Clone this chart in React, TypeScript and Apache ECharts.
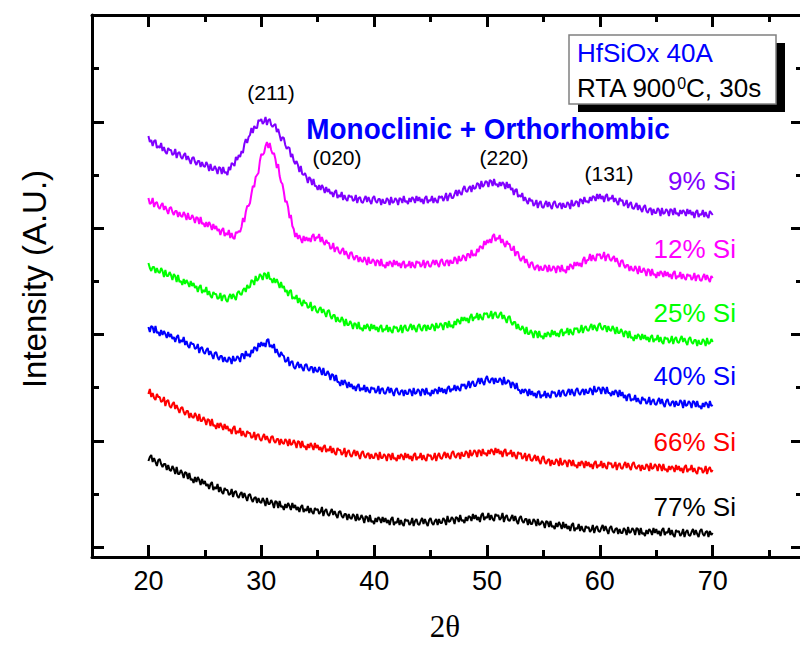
import React, { useEffect, useRef } from "react";
import * as echarts from "echarts";

// 2θ scan from 20° to 70°, one reading every 0.125° (eight per degree, one row per degree)
const scanStart = 20;
const scanStep = 0.125;

const sampleNames = ["9% Si", "12% Si", "25% Si", "40% Si", "66% Si", "77% Si"];
const sampleColors = ["#8000ff", "#ff00ff", "#00ff00", "#0000ff", "#ff0000", "#000000"];

// Intensity (arbitrary units), patterns offset vertically
const si9 = [
  421, 415, 417, 411, 416, 417, 409, 411,
  409, 414, 406, 410, 405, 403, 409, 407,
  407, 402, 403, 408, 399, 404, 405, 400,
  398, 402, 404, 397, 401, 397, 393, 399,
  400, 395, 392, 396, 396, 390, 395, 391,
  390, 395, 392, 386, 393, 387, 387, 391,
  388, 383, 390, 389, 383, 390, 384, 385,
  382, 390, 387, 394, 393, 391, 400, 397,
  402, 400, 406, 404, 413, 418, 414, 420,
  422, 429, 424, 431, 429, 429, 437, 436,
  438, 433, 435, 440, 432, 437, 438, 432,
  430, 432, 433, 425, 428, 422, 416, 420,
  419, 412, 408, 410, 409, 400, 403, 396,
  393, 396, 392, 385, 391, 383, 382, 384,
  380, 374, 380, 378, 372, 378, 371, 371,
  367, 372, 367, 372, 369, 364, 370, 365,
  368, 363, 365, 360, 365, 367, 359, 362,
  360, 365, 357, 362, 358, 356, 362, 360,
  361, 356, 357, 362, 354, 359, 360, 355,
  354, 358, 361, 355, 360, 356, 353, 359,
  361, 356, 354, 358, 358, 352, 358, 354,
  354, 359, 357, 352, 360, 354, 355, 359,
  357, 352, 359, 358, 354, 361, 355, 356,
  353, 359, 355, 360, 358, 354, 361, 356,
  360, 355, 358, 353, 359, 361, 354, 357,
  356, 361, 354, 359, 356, 354, 361, 359,
  361, 356, 359, 364, 356, 361, 364, 359,
  359, 363, 367, 361, 367, 364, 362, 368,
  371, 366, 365, 369, 371, 365, 372, 368,
  369, 374, 373, 368, 376, 370, 372, 376,
  375, 370, 377, 376, 371, 378, 372, 373,
  370, 375, 371, 375, 373, 368, 375, 369,
  373, 367, 369, 362, 367, 368, 360, 362,
  360, 364, 356, 360, 356, 353, 359, 356,
  357, 351, 353, 357, 349, 354, 356, 350,
  349, 353, 356, 350, 355, 351, 348, 354,
  356, 351, 349, 353, 354, 348, 354, 350,
  350, 355, 353, 348, 357, 351, 352, 356,
  355, 350, 358, 357, 353, 360, 355, 356,
  354, 360, 356, 361, 360, 356, 363, 358,
  363, 358, 361, 355, 361, 363, 356, 359,
  358, 362, 355, 359, 355, 352, 359, 356,
  357, 351, 353, 357, 349, 353, 355, 349,
  348, 351, 354, 347, 352, 348, 345, 350,
  352, 346, 344, 348, 349, 342, 348, 344,
  344, 349, 347, 341, 349, 343, 344, 348,
  346, 341, 348, 347, 342, 349, 343, 344,
  341, 347, 343, 347, 345, 341, 348, 343,
  347, 342, 345, 339, 345, 347, 340, 343,
  342, 347, 340, 345, 341, 339, 346, 344,
  342,
];
const si12 = [
  359, 353, 354, 359, 350, 354, 355, 350,
  348, 352, 354, 347, 351, 347, 343, 349,
  350, 345, 342, 346, 346, 340, 345, 341,
  340, 345, 342, 337, 344, 338, 338, 342,
  339, 334, 340, 339, 333, 340, 333, 334,
  330, 335, 330, 335, 332, 327, 333, 328,
  331, 326, 328, 322, 327, 329, 321, 324,
  322, 327, 319, 324, 319, 318, 325, 324,
  326, 325, 330, 339, 335, 345, 351, 351,
  354, 363, 371, 370, 380, 382, 384, 396,
  403, 402, 404, 411, 415, 409, 414, 407,
  403, 404, 398, 389, 393, 381, 375, 373,
  365, 355, 356, 350, 339, 342, 331, 328,
  320, 324, 318, 322, 318, 314, 321, 316,
  320, 316, 319, 315, 321, 323, 316, 320,
  319, 323, 315, 320, 315, 312, 317, 314,
  314, 308, 309, 314, 305, 309, 310, 305,
  303, 307, 309, 302, 306, 302, 298, 304,
  305, 300, 297, 301, 301, 295, 300, 296,
  295, 300, 297, 292, 300, 294, 294, 298,
  296, 291, 297, 296, 291, 298, 291, 292,
  289, 295, 291, 296, 294, 290, 297, 292,
  296, 291, 294, 289, 294, 296, 289, 292,
  291, 296, 289, 295, 291, 289, 296, 294,
  295, 290, 292, 297, 289, 294, 296, 291,
  290, 294, 297, 292, 297, 293, 290, 296,
  298, 293, 291, 296, 297, 291, 297, 294,
  294, 300, 298, 293, 301, 296, 297, 302,
  300, 296, 303, 303, 299, 307, 301, 303,
  301, 308, 305, 311, 310, 308, 316, 312,
  317, 314, 318, 314, 321, 323, 316, 319,
  318, 322, 314, 318, 313, 310, 316, 313,
  313, 307, 307, 311, 301, 305, 305, 299,
  296, 299, 301, 294, 298, 293, 289, 294,
  295, 290, 287, 291, 292, 286, 291, 287,
  287, 292, 290, 285, 292, 286, 287, 291,
  289, 284, 291, 290, 285, 292, 286, 287,
  284, 291, 287, 293, 291, 288, 295, 291,
  295, 291, 294, 290, 297, 300, 293, 297,
  297, 303, 296, 302, 298, 296, 303, 302,
  303, 298, 300, 305, 296, 301, 303, 298,
  296, 299, 301, 295, 299, 294, 290, 296,
  297, 292, 289, 292, 292, 286, 291, 287,
  286, 291, 288, 283, 291, 285, 285, 289,
  286, 281, 288, 287, 281, 288, 282, 283,
  279, 285, 281, 286, 284, 280, 286, 281,
  285, 280, 283, 278, 284, 286, 278, 281,
  280, 285, 278, 283, 279, 277, 283, 281,
  282, 277, 279, 284, 276, 281, 282, 277,
  276, 280, 283, 277, 282, 278, 275, 281,
  279,
];
const si25 = [
  294, 289, 286, 290, 290, 284, 289, 285,
  284, 289, 286, 280, 287, 281, 281, 285,
  282, 277, 283, 281, 275, 282, 275, 276,
  272, 278, 273, 277, 274, 270, 276, 271,
  274, 269, 271, 265, 270, 272, 264, 267,
  265, 270, 262, 266, 261, 259, 265, 263,
  263, 258, 259, 264, 256, 261, 262, 257,
  255, 260, 263, 258, 263, 260, 257, 264,
  266, 263, 262, 267, 269, 265, 272, 269,
  270, 277, 276, 272, 281, 276, 278, 283,
  281, 277, 284, 283, 278, 285, 278, 278,
  274, 279, 274, 278, 274, 269, 275, 269,
  271, 265, 267, 261, 266, 267, 258, 260,
  258, 262, 254, 259, 254, 251, 257, 254,
  254, 249, 250, 255, 246, 250, 251, 246,
  244, 248, 250, 244, 248, 244, 240, 246,
  247, 241, 238, 242, 242, 235, 240, 236,
  235, 240, 237, 231, 238, 232, 232, 236,
  233, 228, 234, 233, 228, 235, 228, 229,
  226, 232, 228, 233, 230, 226, 233, 228,
  232, 227, 230, 225, 230, 232, 225, 228,
  227, 232, 225, 230, 226, 224, 231, 229,
  230, 225, 227, 232, 224, 230, 232, 227,
  226, 230, 233, 227, 232, 228, 225, 231,
  233, 228, 226, 231, 232, 226, 232, 228,
  228, 233, 231, 226, 234, 229, 230, 234,
  232, 227, 234, 234, 229, 236, 230, 232,
  229, 236, 232, 238, 236, 233, 240, 236,
  240, 236, 239, 234, 240, 243, 236, 240,
  239, 244, 237, 243, 239, 237, 244, 243,
  244, 239, 241, 246, 238, 243, 245, 240,
  239, 243, 245, 238, 242, 238, 234, 240,
  241, 235, 232, 235, 235, 228, 233, 228,
  227, 231, 228, 223, 230, 223, 223, 227,
  224, 219, 226, 225, 219, 226, 220, 221,
  218, 224, 220, 225, 223, 220, 227, 222,
  226, 221, 224, 220, 226, 228, 221, 225,
  224, 229, 222, 228, 224, 222, 229, 228,
  229, 224, 226, 232, 224, 229, 231, 227,
  226, 230, 233, 227, 232, 229, 226, 232,
  234, 229, 227, 231, 231, 225, 231, 227,
  226, 231, 228, 223, 230, 224, 224, 228,
  225, 220, 226, 225, 219, 226, 219, 220,
  216, 222, 218, 223, 221, 217, 223, 218,
  222, 217, 220, 215, 220, 222, 215, 218,
  217, 222, 215, 220, 215, 213, 220, 218,
  219, 214, 216, 221, 213, 218, 220, 215,
  214, 218, 221, 215, 219, 215, 212, 218,
  220, 215, 213, 217, 217, 211, 217, 213,
  213, 218, 216, 211, 219, 213, 214, 218,
  215,
];
const si40 = [
  230, 225, 231, 230, 224, 231, 224, 225,
  221, 227, 222, 226, 223, 219, 225, 220,
  223, 218, 220, 215, 220, 222, 214, 217,
  215, 220, 212, 216, 211, 209, 215, 213,
  213, 208, 209, 213, 204, 209, 210, 205,
  203, 207, 209, 202, 206, 202, 198, 204,
  205, 200, 197, 201, 201, 195, 200, 196,
  195, 200, 198, 193, 201, 196, 197, 201,
  199, 195, 203, 203, 198, 206, 201, 203,
  200, 207, 204, 210, 209, 206, 214, 210,
  215, 211, 214, 210, 217, 218, 210, 212,
  209, 213, 204, 208, 203, 200, 205, 202,
  201, 195, 196, 200, 191, 195, 196, 190,
  188, 192, 195, 189, 193, 189, 186, 192,
  193, 188, 186, 190, 190, 184, 190, 186,
  185, 190, 187, 182, 189, 182, 182, 186,
  183, 177, 183, 182, 176, 182, 175, 175,
  171, 177, 172, 177, 174, 169, 175, 170,
  173, 168, 171, 166, 171, 173, 166, 169,
  167, 172, 165, 170, 166, 164, 170, 168,
  169, 164, 166, 171, 163, 168, 169, 164,
  163, 167, 170, 164, 169, 165, 161, 167,
  169, 164, 162, 166, 167, 161, 167, 163,
  163, 168, 166, 161, 169, 163, 164, 168,
  166, 161, 168, 167, 162, 169, 163, 164,
  161, 167, 163, 168, 167, 163, 170, 165,
  169, 164, 168, 163, 169, 171, 165, 168,
  167, 172, 166, 171, 168, 166, 173, 171,
  173, 168, 171, 176, 169, 174, 176, 171,
  171, 175, 179, 173, 179, 175, 172, 178,
  181, 176, 174, 178, 179, 173, 179, 175,
  175, 179, 177, 172, 180, 173, 174, 177,
  175, 169, 175, 173, 168, 174, 167, 167,
  163, 168, 164, 168, 166, 161, 168, 162,
  166, 161, 164, 159, 165, 166, 159, 162,
  161, 166, 159, 164, 161, 159, 166, 164,
  165, 160, 162, 167, 160, 165, 167, 162,
  161, 165, 168, 162, 168, 164, 161, 167,
  169, 164, 162, 166, 168, 162, 168, 164,
  164, 169, 167, 162, 171, 165, 166, 170,
  168, 163, 170, 168, 163, 170, 164, 164,
  161, 166, 162, 167, 165, 160, 167, 161,
  165, 159, 162, 156, 162, 163, 156, 158,
  157, 162, 155, 159, 155, 153, 160, 157,
  158, 153, 155, 160, 152, 156, 158, 153,
  152, 156, 159, 153, 158, 153, 150, 156,
  158, 153, 151, 155, 156, 150, 156, 152,
  152, 157, 155, 149, 157, 151, 152, 156,
  154, 149, 156, 155, 150, 156, 150, 151,
  148, 154, 150, 155, 153, 149, 156, 151,
  152,
];
const si66 = [
  163, 168, 160, 164, 159, 157, 163, 160,
  160, 155, 156, 160, 151, 156, 157, 151,
  149, 153, 155, 148, 152, 148, 144, 149,
  150, 145, 142, 146, 146, 139, 144, 140,
  139, 144, 141, 136, 143, 136, 136, 140,
  137, 132, 138, 137, 131, 138, 131, 132,
  128, 134, 129, 134, 131, 127, 133, 128,
  131, 126, 128, 123, 129, 131, 123, 126,
  124, 129, 121, 126, 122, 120, 126, 124,
  124, 119, 120, 125, 117, 122, 123, 118,
  116, 120, 123, 117, 121, 117, 114, 120,
  121, 116, 114, 118, 118, 112, 118, 114,
  113, 118, 116, 111, 118, 112, 113, 117,
  114, 109, 116, 115, 109, 116, 110, 111,
  107, 113, 109, 114, 111, 107, 114, 109,
  112, 107, 110, 105, 110, 112, 105, 108,
  106, 111, 104, 109, 104, 102, 109, 107,
  107, 102, 104, 109, 100, 105, 107, 102,
  100, 104, 107, 101, 106, 102, 98, 104,
  106, 101, 99, 103, 104, 98, 103, 99,
  99, 104, 102, 97, 105, 99, 99, 103,
  101, 96, 103, 102, 97, 104, 98, 99,
  96, 102, 98, 103, 101, 97, 104, 99,
  103, 98, 101, 96, 102, 104, 97, 100,
  99, 104, 97, 102, 98, 96, 103, 101,
  102, 97, 99, 104, 96, 101, 104, 99,
  98, 102, 105, 99, 104, 100, 98, 104,
  106, 101, 99, 103, 104, 98, 105, 101,
  101, 106, 104, 99, 107, 101, 103, 107,
  105, 100, 107, 106, 101, 108, 103, 104,
  101, 107, 103, 108, 106, 102, 109, 104,
  108, 103, 106, 100, 106, 108, 101, 104,
  103, 107, 100, 105, 101, 98, 105, 103,
  104, 98, 100, 104, 96, 101, 103, 97,
  96, 99, 102, 96, 101, 96, 93, 99,
  101, 95, 93, 97, 98, 91, 97, 93,
  93, 98, 96, 91, 99, 92, 93, 97,
  95, 90, 97, 96, 91, 97, 91, 92,
  89, 95, 91, 96, 94, 89, 96, 91,
  95, 90, 93, 88, 94, 96, 89, 92,
  91, 96, 89, 94, 90, 88, 95, 93,
  94, 89, 91, 95, 87, 92, 94, 89,
  88, 92, 95, 89, 94, 90, 87, 93,
  95, 90, 88, 91, 92, 86, 92, 88,
  88, 93, 91, 86, 94, 88, 89, 93,
  91, 86, 93, 91, 86, 93, 87, 88,
  85, 91, 87, 91, 89, 85, 92, 87,
  91, 86, 89, 84, 90, 92, 85, 88,
  87, 92, 85, 89, 85, 83, 90, 88,
  89, 84, 86, 91, 83, 88, 90, 85,
  87,
];
const si77 = [
  96, 100, 102, 95, 99, 95, 91, 97,
  98, 93, 90, 93, 93, 87, 92, 87,
  86, 91, 88, 83, 90, 83, 83, 87,
  84, 79, 85, 84, 78, 84, 77, 78,
  74, 80, 75, 80, 77, 72, 78, 73,
  76, 71, 73, 68, 73, 75, 67, 70,
  68, 73, 65, 70, 65, 63, 69, 67,
  67, 62, 63, 68, 60, 65, 66, 61,
  59, 63, 65, 59, 64, 60, 56, 62,
  63, 58, 55, 59, 60, 54, 59, 55,
  54, 59, 56, 51, 59, 53, 53, 57,
  54, 49, 56, 55, 49, 56, 50, 51,
  47, 53, 49, 54, 51, 47, 54, 49,
  52, 47, 50, 45, 50, 52, 45, 48,
  46, 51, 44, 49, 45, 43, 49, 47,
  48, 43, 45, 50, 41, 46, 48, 43,
  41, 45, 48, 42, 46, 42, 39, 45,
  46, 41, 39, 43, 43, 37, 43, 39,
  38, 43, 41, 36, 43, 37, 38, 42,
  39, 34, 41, 40, 35, 42, 35, 36,
  33, 39, 35, 40, 38, 34, 40, 35,
  39, 34, 37, 32, 38, 40, 32, 35,
  34, 39, 32, 37, 33, 31, 38, 36,
  37, 32, 34, 39, 31, 36, 38, 33,
  32, 36, 39, 33, 38, 34, 31, 37,
  39, 34, 32, 36, 38, 32, 38, 34,
  34, 39, 37, 32, 41, 35, 36, 40,
  38, 33, 40, 39, 35, 42, 36, 37,
  34, 40, 36, 41, 40, 36, 43, 38,
  42, 37, 40, 35, 42, 44, 37, 40,
  39, 44, 37, 42, 38, 36, 43, 41,
  42, 37, 39, 44, 35, 40, 42, 37,
  36, 39, 42, 36, 41, 36, 33, 39,
  41, 36, 34, 38, 38, 32, 38, 33,
  33, 38, 36, 31, 38, 32, 33, 36,
  34, 29, 36, 35, 30, 36, 30, 31,
  28, 34, 30, 35, 32, 28, 35, 29,
  33, 28, 31, 26, 32, 34, 26, 29,
  28, 33, 26, 31, 27, 25, 31, 29,
  30, 25, 27, 32, 24, 29, 31, 26,
  25, 29, 32, 26, 31, 27, 23, 29,
  31, 26, 24, 28, 29, 23, 28, 24,
  24, 29, 27, 22, 30, 24, 25, 29,
  27, 22, 29, 28, 22, 29, 23, 24,
  21, 27, 23, 28, 26, 22, 29, 24,
  28, 23, 26, 21, 27, 29, 22, 25,
  24, 29, 22, 27, 22, 20, 27, 25,
  26, 21, 23, 28, 20, 25, 27, 22,
  21, 25, 28, 22, 27, 23, 20, 26,
  28, 23, 21, 25, 26, 20, 26, 22,
  24,
];

const curves = [si9, si12, si25, si40, si66, si77];

// axis ticks
const xLabelValues = [20, 30, 40, 50, 60, 70];
const xMinorValues = [25, 35, 45, 55, 65, 75];
const yMajorValues = [10, 116, 223, 329, 435];
const yMinorValues = [63, 170, 276, 382, 489];

const peakNames = ["(211)", "(020)", "(220)", "(131)"];
const phaseTitle = "Monoclinic + Orthorhombic";
const filmTitle = "HfSiOx 40A";
const annealTitle = "RTA 900{s|0}C, 30s";

const SANS = "'Liberation Sans', Arial, Helvetica, sans-serif";
const SERIF = "'Liberation Serif', 'Times New Roman', serif";

// screen placement of the annotations
const peakPos = [
  [271, 92],
  [337, 157],
  [504, 157],
  [609, 173],
];
const sampleLabelY = [181, 249, 313, 376, 442, 507];

function makeAxis(dim: "x" | "y", position: string, ticks: number[], len: number, withLine: boolean, withLabels: boolean) {
  const range = dim === "x" ? { min: 15, max: 78 } : { min: 0, max: 542 };
  return {
    type: "value",
    position,
    ...range,
    axisLine: { show: withLine, onZero: false, lineStyle: { color: "#000", width: 3 } },
    axisTick: {
      show: true,
      inside: true,
      length: len,
      customValues: ticks,
      lineStyle: { color: "#000", width: 3 },
    },
    axisLabel: withLabels
      ? { show: true, customValues: xLabelValues, fontSize: 27, fontFamily: SANS, color: "#000", margin: 10 }
      : { show: false },
    splitLine: { show: false },
    minorTick: { show: false },
  };
}

export default function App() {
  const ref = useRef<HTMLDivElement>(null);

  useEffect(() => {
    if (!ref.current) return;
    const chart = echarts.init(ref.current, undefined, { renderer: "svg" });

    const graphic: any[] = [];
    // axis titles
    graphic.push({
      type: "text",
      x: 445,
      y: 626,
      style: { text: "2θ", fill: "#000", fontSize: 31, fontFamily: SERIF, align: "center", verticalAlign: "middle" },
    });
    graphic.push({
      type: "text",
      x: 34,
      y: 279,
      rotation: Math.PI / 2,
      style: { text: "Intensity (A.U.)", fill: "#000", fontSize: 33, fontFamily: SANS, align: "center", verticalAlign: "middle" },
    });
    // reflection indices
    peakNames.forEach((t, i) => {
      graphic.push({
        type: "text",
        x: peakPos[i][0],
        y: peakPos[i][1],
        style: { text: t, fill: "#000", fontSize: 21, fontFamily: SANS, align: "center", verticalAlign: "middle" },
      });
    });
    graphic.push({
      type: "text",
      x: 488,
      y: 129,
      scaleX: 0.93,
      style: { text: phaseTitle, fill: "#0000ff", fontSize: 30, fontWeight: "bold", fontFamily: SANS, align: "center", verticalAlign: "middle" },
    });
    // sample labels
    sampleNames.forEach((t, i) => {
      graphic.push({
        type: "text",
        x: 736,
        y: sampleLabelY[i],
        style: { text: t, fill: sampleColors[i], fontSize: 26, fontFamily: SANS, align: "right", verticalAlign: "middle" },
      });
    });
    // info box with drop shadow
    graphic.push({ type: "rect", shape: { x: 578, y: 43, width: 207, height: 69 }, style: { fill: "#000" } });
    graphic.push({ type: "rect", shape: { x: 569, y: 35, width: 207, height: 69 }, style: { fill: "#fff", stroke: "#808080", lineWidth: 1.5 } });
    graphic.push({
      type: "text",
      x: 577,
      y: 53,
      style: { text: filmTitle, fill: "#0000ff", fontSize: 26, fontFamily: SANS, align: "left", verticalAlign: "middle" },
    });
    graphic.push({
      type: "text",
      x: 577,
      y: 88,
      style: {
        text: annealTitle,
        fill: "#000",
        fontSize: 26,
        fontFamily: SANS,
        align: "left",
        verticalAlign: "middle",
        rich: { s: { fontSize: 16, fontFamily: SANS, fill: "#000", verticalAlign: "top" } },
      },
    });

    chart.setOption({
      animation: false,
      backgroundColor: "#fff",
      grid: { left: 92, right: -3, top: 15, bottom: 88, containLabel: false, outerBoundsMode: "none" },
      xAxis: [
        makeAxis("x", "bottom", xLabelValues, 12, true, true),
        makeAxis("x", "bottom", xMinorValues, 7, false, false),
        makeAxis("x", "top", xLabelValues, 12, true, false),
        makeAxis("x", "top", xMinorValues, 7, false, false),
      ],
      yAxis: [
        makeAxis("y", "left", yMajorValues, 12, true, false),
        makeAxis("y", "left", yMinorValues, 7, false, false),
        makeAxis("y", "right", yMajorValues, 12, true, false),
        makeAxis("y", "right", yMinorValues, 7, false, false),
      ],
      series: curves.map((vals, k) => ({
        type: "line",
        name: sampleNames[k],
        xAxisIndex: 0,
        yAxisIndex: 0,
        data: vals.map((v, i) => [scanStart + i * scanStep, v]),
        symbol: "none",
        showSymbol: false,
        silent: true,
        lineStyle: { color: sampleColors[k], width: 2 },
        itemStyle: { color: sampleColors[k] },
      })),
      graphic,
    });

    return () => chart.dispose();
  }, []);

  return <div ref={ref} style={{ position: "absolute", left: 0, top: 0, width: 800, height: 645 }} />;
}
